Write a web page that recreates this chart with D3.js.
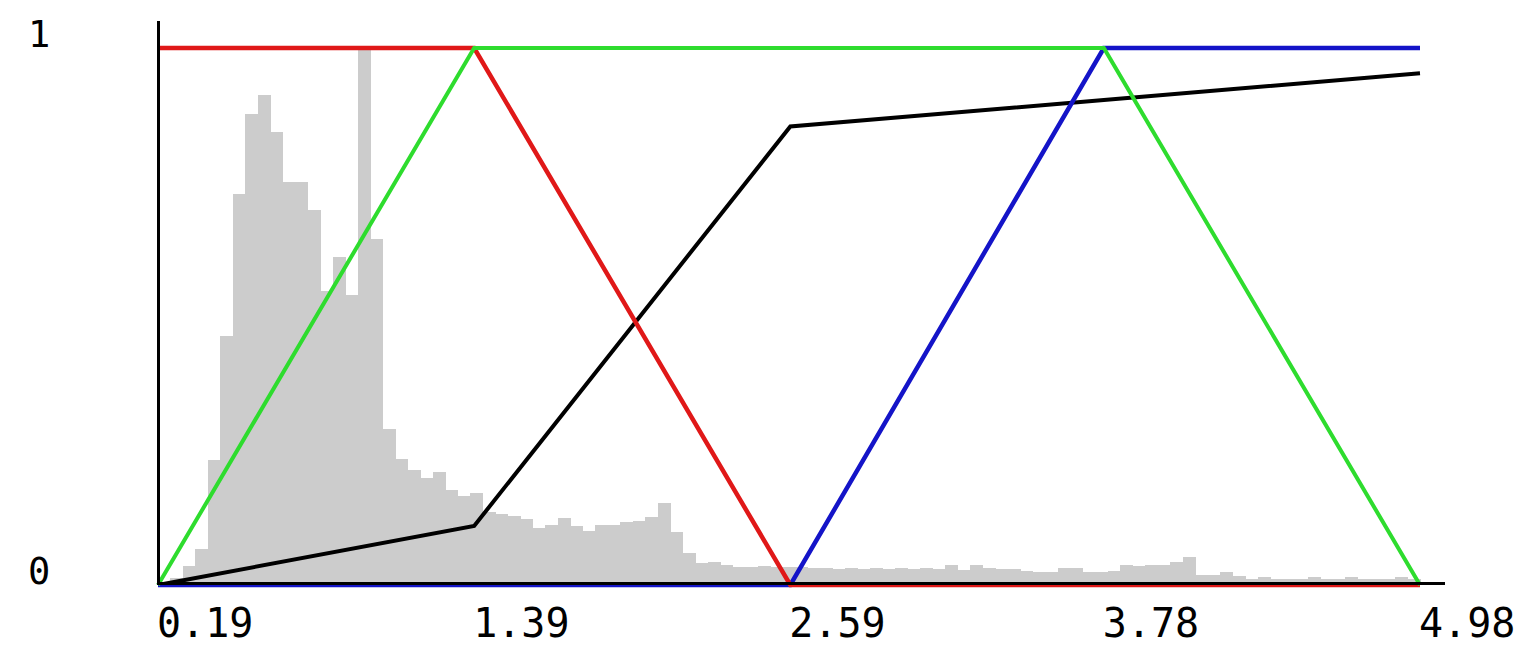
<!DOCTYPE html>
<html>
<head>
<meta charset="utf-8">
<script src="https://cdn.jsdelivr.net/npm/d3@7"></script>
<style>
  html, body { margin: 0; padding: 0; background: #ffffff; }
  svg { display: block; }
  text { font-family: "DejaVu Sans Mono", "Liberation Mono", monospace; fill: #000; }
</style>
</head>
<body>
<svg id="chart" width="1533" height="649"></svg>
<script>
// Membership functions sampled at the axis break points
const xTicks = [0.19, 1.39, 2.59, 3.78, 4.98];
const xTickLabels = ["0.19", "1.39", "2.59", "3.78", "4.98"];
const yTicks = [0, 1];
const yTickLabels = ["0", "1"];

const redValues   = [1, 1, 0, 0, 0];
const greenValues = [0, 1, 1, 1, 0];
const blueValues  = [0, 0, 0, 1, 1];
const blackValues = [0, 0.110, 0.854, 0.903, 0.953];

// Normalised histogram of the input variable (equal-width bins over the x range)
const histLow = 0.19;
const histHigh = 4.98;
const histogram = [
  0.006, 0.013, 0.035, 0.067, 0.233, 0.463, 0.729, 0.878, 0.913, 0.843,
  0.750, 0.750, 0.698, 0.547, 0.610, 0.540, 1.000, 0.644, 0.290, 0.234,
  0.214, 0.199, 0.210, 0.177, 0.165, 0.171, 0.136, 0.133, 0.128, 0.123,
  0.106, 0.112, 0.124, 0.110, 0.101, 0.112, 0.112, 0.117, 0.120, 0.126,
  0.152, 0.099, 0.060, 0.041, 0.042, 0.037, 0.034, 0.034, 0.035, 0.034,
  0.033, 0.034, 0.031, 0.031, 0.030, 0.032, 0.030, 0.031, 0.029, 0.031,
  0.029, 0.031, 0.030, 0.037, 0.028, 0.037, 0.031, 0.030, 0.029, 0.027,
  0.025, 0.025, 0.031, 0.031, 0.025, 0.025, 0.026, 0.037, 0.036, 0.037,
  0.038, 0.042, 0.053, 0.019, 0.019, 0.025, 0.017, 0.012, 0.015, 0.012,
  0.011, 0.012, 0.015, 0.011, 0.011, 0.014, 0.012, 0.011, 0.011, 0.015,
  0.012
];

const svg = d3.select("#chart");

const x = d3.scaleLinear().domain([0.19, 4.98]).range([158, 1420]);
const y = d3.scaleLinear().domain([0, 1]).range([585, 48]);
const xBin = d3.scaleLinear().domain([0, histogram.length]).range([x(histLow), x(histHigh)]);

// Histogram bars
svg.append("g")
  .selectAll("rect")
  .data(histogram)
  .join("rect")
  .attr("x", (d, i) => xBin(i))
  .attr("width", (d, i) => xBin(i + 1) - xBin(i) + 0.5)
  .attr("y", d => y(d))
  .attr("height", d => y(0) - y(d))
  .attr("fill", "#cccccc")
  .attr("shape-rendering", "crispEdges");

const line = d3.line()
  .x(d => x(d[0]))
  .y(d => y(d[1]));

const series = [
  { values: blackValues, color: "#000000", width: 4 },
  { values: blueValues,  color: "#1414c8", width: 4.5 },
  { values: redValues,   color: "#e01818", width: 4.5 },
  { values: greenValues, color: "#2edc2e", width: 4 }
];

svg.append("g")
  .selectAll("path")
  .data(series)
  .join("path")
  .attr("d", s => line(xTicks.map((t, i) => [t, s.values[i]])))
  .attr("fill", "none")
  .attr("stroke", s => s.color)
  .attr("stroke-width", s => s.width)
  .attr("stroke-linejoin", "miter");

// Axis lines
const axes = svg.append("g").attr("stroke", "#000").attr("stroke-width", 3).attr("shape-rendering", "crispEdges");
axes.append("line")
  .attr("x1", x(0.19)).attr("x2", 1445)
  .attr("y1", y(0) - 2).attr("y2", y(0) - 2);
axes.append("line")
  .attr("x1", x(0.19)).attr("x2", x(0.19))
  .attr("y1", 21).attr("y2", y(0));

// Tick labels
svg.append("g")
  .selectAll("text")
  .data(xTicks)
  .join("text")
  .attr("x", d => x(d) - 1)
  .attr("y", 637)
  .attr("font-size", 40)
  .text((d, i) => xTickLabels[i]);

svg.append("g")
  .selectAll("text")
  .data(yTicks)
  .join("text")
  .attr("x", 28)
  .attr("y", d => y(d) - 1)
  .attr("font-size", 37)
  .text((d, i) => yTickLabels[i]);
</script>
</body>
</html>
